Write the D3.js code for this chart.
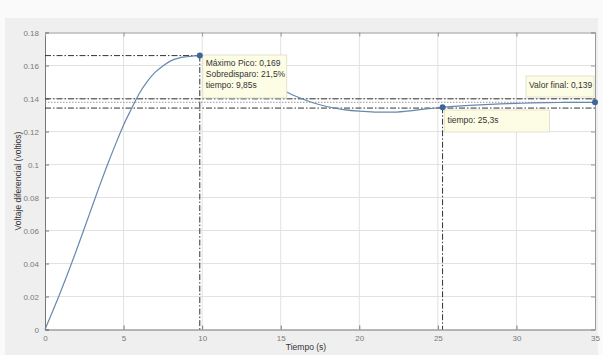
<!DOCTYPE html>
<html>
<head>
<meta charset="utf-8">
<script src="https://cdn.jsdelivr.net/npm/d3@7"></script>
<style>
  html, body { margin: 0; padding: 0; background: #fafafa; }
  svg { display: block; font-family: "Liberation Sans", Arial, sans-serif; }
</style>
</head>
<body>
<svg id="chart" width="603" height="355"></svg>
<script>
// curva (tiempo en s, voltaje en V)
const tiempo = [0, 0.5, 1, 1.5, 2, 2.5, 3, 3.5, 4, 4.5, 5, 5.5, 6, 6.5, 7, 7.5, 8, 8.5, 9, 9.85,
  10.5, 11, 12, 13, 14, 15, 16, 17, 18, 19, 20, 21, 22, 23, 24, 25.3, 26, 27, 28, 29, 30, 31, 32, 33, 34, 35];
const voltaje = [0, 0.0113, 0.023, 0.0353, 0.048, 0.0612, 0.0745, 0.0878, 0.1005, 0.1125, 0.124, 0.1337,
  0.143, 0.1502, 0.1558, 0.1597, 0.1628, 0.1645, 0.1653, 0.166,
  0.1655, 0.1645, 0.1608, 0.1562, 0.151, 0.1458, 0.1412, 0.1376, 0.135, 0.1333, 0.1323, 0.1318, 0.1317,
  0.1323, 0.1334, 0.1347, 0.1352, 0.1358, 0.1363, 0.1367, 0.137, 0.1373, 0.1375, 0.1376, 0.1377, 0.1377];

const xTicks = [0, 5, 10, 15, 20, 25, 30, 35];
const yTicks = [0, 0.02, 0.04, 0.06, 0.08, 0.1, 0.12, 0.14, 0.16, 0.18];

// marcadores: pico, tiempo de establecimiento, valor final
const marcaT = [9.85, 25.3, 35];
const marcaV = [0.166, 0.1347, 0.1377];
const bandas = [0.1398, 0.1342];
const valorFinal = 0.1377;

const tipPico = ['Máximo Pico: 0,169', 'Sobredisparo: 21,5%', 'tiempo: 9,85s'];
const tipEst = ['tiempo: 25,3s'];
const tipFinal = ['Valor final: 0,139'];

const svg = d3.select('#chart');
const margin = { top: 32.5, right: 8, bottom: 25.5, left: 45 };
const W = 603, H = 355;

// fondo de la figura
svg.append('rect').attr('x', 5).attr('y', 18).attr('width', 593).attr('height', H - 18).attr('fill', '#efefef');

const x = d3.scaleLinear().domain([0, 35]).range([margin.left, W - margin.right]);
const y = d3.scaleLinear().domain([0, 0.18]).range([H - margin.bottom, margin.top]);

svg.append('rect')
  .attr('x', x(0)).attr('y', y(0.18))
  .attr('width', x(35) - x(0)).attr('height', y(0) - y(0.18))
  .attr('fill', '#fff');

// rejilla
const grid = svg.append('g');
grid.selectAll('.gx').data(xTicks.slice(1, -1)).enter().append('line')
  .attr('x1', d => x(d)).attr('x2', d => x(d))
  .attr('y1', y(0)).attr('y2', y(0.18))
  .attr('stroke', '#e2e2e2').attr('stroke-width', 1);
grid.selectAll('.gy').data(yTicks.slice(1, -1)).enter().append('line')
  .attr('x1', x(0)).attr('x2', x(35))
  .attr('y1', d => y(d)).attr('y2', d => y(d))
  .attr('stroke', '#e2e2e2').attr('stroke-width', 1);

// ejes
const fmtY = d => d === 0 ? '0' : String(+d.toFixed(2));
const yAxis = svg.append('g')
  .attr('transform', `translate(${x(0)},0)`)
  .call(d3.axisLeft(y).tickValues(yTicks).tickSize(-4).tickPadding(6).tickFormat(fmtY));
const xAxis = svg.append('g')
  .attr('transform', `translate(0,${y(0)})`)
  .call(d3.axisBottom(x).tickValues(xTicks).tickSize(-4).tickPadding(6));
[xAxis, yAxis].forEach(a => {
  a.select('.domain').attr('stroke', '#777');
  a.selectAll('.tick line').attr('stroke', '#777');
  a.selectAll('.tick text').attr('fill', '#7a7a7a').style('font-size', '8px')
    .style('font-family', '"Liberation Sans", Arial, sans-serif');
});
svg.append('g')
  .attr('transform', `translate(${x(35)},0)`)
  .call(d3.axisRight(y).tickValues(yTicks).tickSize(-4).tickFormat(''))
  .call(g => g.selectAll('line, path').attr('stroke', '#999'));
svg.append('g')
  .attr('transform', `translate(0,${y(0.18)})`)
  .call(d3.axisTop(x).tickValues(xTicks).tickSize(-4).tickFormat(''))
  .call(g => g.selectAll('line, path').attr('stroke', '#999'));

svg.append('text')
  .attr('x', 306).attr('y', 350)
  .attr('text-anchor', 'middle')
  .attr('fill', '#333').style('font-size', '8.5px')
  .text('Tiempo (s)');
svg.append('text')
  .attr('transform', `translate(21,${(y(0) + y(0.18)) / 2}) rotate(-90)`)
  .attr('text-anchor', 'middle')
  .attr('fill', '#333').style('font-size', '8.5px')
  .text('Voltaje diferencial (voltios)');

// lineas de referencia
const dashDot = '6,2,1.5,2';
const ref = svg.append('g').attr('stroke', '#333').attr('stroke-width', 1).attr('fill', 'none');
ref.append('line')
  .attr('x1', x(0)).attr('x2', x(marcaT[0]))
  .attr('y1', y(marcaV[0])).attr('y2', y(marcaV[0]))
  .attr('stroke-dasharray', dashDot);
ref.append('line')
  .attr('x1', x(marcaT[0])).attr('x2', x(marcaT[0]))
  .attr('y1', y(marcaV[0])).attr('y2', y(0))
  .attr('stroke-dasharray', dashDot);
ref.selectAll('.banda').data(bandas).enter().append('line')
  .attr('x1', x(0)).attr('x2', x(35))
  .attr('y1', d => y(d)).attr('y2', d => y(d))
  .attr('stroke-dasharray', dashDot);
ref.append('line')
  .attr('x1', x(0)).attr('x2', x(35))
  .attr('y1', y(valorFinal)).attr('y2', y(valorFinal))
  .attr('stroke', '#999').attr('stroke-dasharray', '1.5,1.5');
ref.append('line')
  .attr('x1', x(marcaT[1])).attr('x2', x(marcaT[1]))
  .attr('y1', y(marcaV[1])).attr('y2', y(0))
  .attr('stroke-dasharray', dashDot);

// curva
const line = d3.line()
  .x((d, i) => x(tiempo[i]))
  .y(d => y(d))
  .curve(d3.curveMonotoneX);
svg.append('path')
  .datum(voltaje)
  .attr('d', line)
  .attr('fill', 'none')
  .attr('stroke', '#6788ad')
  .attr('stroke-width', 1.2);

// cuadros de datos
function tip(px, py, w, h, lines, dy) {
  const g = svg.append('g');
  g.append('rect').attr('x', px).attr('y', py).attr('width', w).attr('height', h)
    .attr('fill', '#fdfde6').attr('stroke', '#dcdcc8').attr('stroke-width', 0.8);
  g.selectAll('text').data(lines).enter().append('text')
    .attr('x', px + 3).attr('y', (d, i) => py + dy + i * 11)
    .attr('fill', '#333').style('font-size', '8.5px')
    .text(d => d);
}
tip(x(marcaT[0]) + 3, 55, 84, 43, tipPico, 11);
tip(x(marcaT[1]) + 2, 110, 105, 22, tipEst, 13);
tip(526, 76, 68, 21, tipFinal, 12);

// marcadores
svg.selectAll('.dot')
  .data(marcaT).enter().append('circle')
  .attr('cx', d => x(d))
  .attr('cy', (d, i) => y(marcaV[i]))
  .attr('r', 3)
  .attr('fill', '#3c679a');
</script>
</body>
</html>
